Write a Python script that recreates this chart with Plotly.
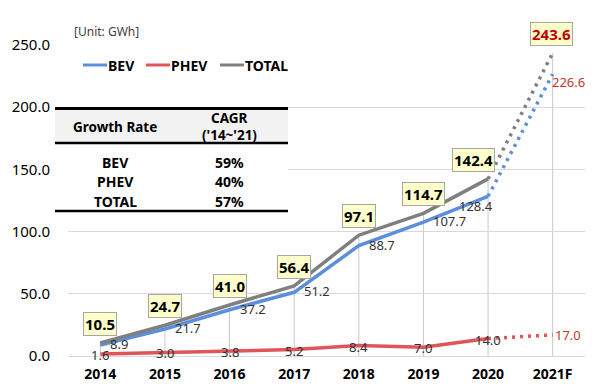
import plotly.graph_objects as go

years = ["2014", "2015", "2016", "2017", "2018", "2019", "2020", "2021F"]
bev = [8.9, 21.7, 37.2, 51.2, 88.7, 107.7, 128.4, 226.6]
phev = [1.6, 3.0, 3.8, 5.2, 8.4, 7.0, 14.0, 17.0]
total = [10.5, 24.7, 41.0, 56.4, 97.1, 114.7, 142.4, 243.6]

table_rows = ["BEV", "PHEV", "TOTAL"]
table_cagr = ["59%", "40%", "57%"]

C_BEV = "#5B8EDC"
C_PHEV = "#E0555A"
C_TOT = "#7F7F7F"
FONT = "Noto Sans"

# plot area in pixels
L, R, T, B = 68, 585, 45, 356
W, H = 600, 390


def px(x):
    return (x - L) / (R - L)


def py(y):
    return (B - y) / (B - T)


fig = go.Figure()
xi = list(range(len(years)))

# drop lines
shapes = []
for i, v in enumerate(total):
    shapes.append(dict(type="line", xref="x", yref="y", x0=i, x1=i, y0=0, y1=v,
                       line=dict(color="#C8C8C8", width=1), layer="below"))


def add_series(vals, color):
    fig.add_trace(go.Scatter(x=xi[:7], y=vals[:7], mode="lines",
                             line=dict(color=color, width=3.5), showlegend=False,
                             hoverinfo="skip"))
    fig.add_trace(go.Scatter(x=xi[6:], y=vals[6:], mode="lines",
                             line=dict(color=color, width=3.5, dash="3px,5px"),
                             showlegend=False, hoverinfo="skip"))


add_series(phev, C_PHEV)
add_series(bev, C_BEV)
add_series(total, C_TOT)

ann = []
# TOTAL labels
for i, v in enumerate(total):
    last = i == len(total) - 1
    ann.append(dict(x=i, y=v, xref="x", yref="y", text=f"<b>{v:.1f}</b>",
                    showarrow=False, yshift=19, xshift=-15 if i == 6 else (-1 if last else 0),
                    font=dict(family=FONT, size=15, color="#C00000" if last else "#000000"),
                    bgcolor="#FFFFCC", bordercolor="#A6A6A6", borderwidth=1, borderpad=1))
# BEV labels
for i, v in enumerate(bev):
    last = i == len(bev) - 1
    if i == 6:
        xs, ys, xa = -12, -10, "center"
    elif last:
        xs, ys, xa = -3, -8, "left"
    else:
        xs, ys, xa = 8, 1, "left"
    ann.append(dict(x=i, y=v, xref="x", yref="y", text=f"{v:.1f}",
                    showarrow=False, xshift=xs, yshift=ys, xanchor=xa,
                    font=dict(family=FONT, size=13, color="#C0392B" if last else "#333333")))
# PHEV labels
for i, v in enumerate(phev):
    last = i == len(phev) - 1
    ann.append(dict(x=i, y=v, xref="x", yref="y", text=f"{v:.1f}",
                    showarrow=False, xanchor="left" if last else "center",
                    xshift=0, yshift=0 if last else -1,
                    font=dict(family=FONT, size=13, color="#C0392B" if last else "#333333")))

# unit
ann.append(dict(x=px(72), y=py(32), xref="paper", yref="paper", text="[Unit: GWh]",
                showarrow=False, xanchor="left", yanchor="middle",
                font=dict(family=FONT, size=12, color="#404040")))

# legend (custom)
for x0, name, col in [(83, "BEV", C_BEV), (146, "PHEV", C_PHEV), (220, "TOTAL", C_TOT)]:
    shapes.append(dict(type="line", xref="paper", yref="paper", x0=px(x0), x1=px(x0 + 24),
                       y0=py(65), y1=py(65), line=dict(color=col, width=3)))
    ann.append(dict(x=px(x0 + 23), y=py(65), xref="paper", yref="paper", text=f"<b>{name}</b>",
                    showarrow=False, xanchor="left", yanchor="middle",
                    font=dict(family=FONT, size=14, color="#000000")))

# table
tx0, tx1 = 55, 288
shapes.append(dict(type="rect", xref="paper", yref="paper", x0=px(tx0), x1=px(tx1),
                   y0=py(212), y1=py(108), fillcolor="#FFFFFF", line=dict(width=0)))
shapes.append(dict(type="rect", xref="paper", yref="paper", x0=px(tx0), x1=px(tx1),
                   y0=py(143), y1=py(109), fillcolor="#F2F2F2", line=dict(width=0)))
for yy, lw in [(108.5, 3), (143, 2.5), (211, 2.5)]:
    shapes.append(dict(type="line", xref="paper", yref="paper", x0=px(tx0), x1=px(tx1),
                       y0=py(yy), y1=py(yy), line=dict(color="#000000", width=lw)))


def tt(x, y, text, size=13):
    ann.append(dict(x=px(x), y=py(y), xref="paper", yref="paper", text=f"<b>{text}</b>",
                    showarrow=False, xanchor="center", yanchor="middle",
                    font=dict(family=FONT, size=size, color="#000000")))


tt(115, 127, "Growth Rate", 13.5)
tt(229, 118, "CAGR", 13.5)
tt(229, 135, "('14~'21)", 13.5)
for k, (r, c) in enumerate(zip(table_rows, table_cagr)):
    yy = 162 + k * 19.5
    tt(115, yy, r, 14)
    tt(229, yy, c, 14)

fig.update_layout(
    width=W, height=H,
    margin=dict(l=L, r=W - R, t=T, b=H - B),
    plot_bgcolor="#FFFFFF", paper_bgcolor="#FFFFFF",
    shapes=shapes, annotations=ann, showlegend=False,
    xaxis=dict(range=[-0.5, 7.5], tickvals=xi, ticktext=[f"<b>{y}</b>" for y in years],
               showgrid=False, zeroline=False, automargin=False,
               showline=False, ticks="", tickfont=dict(family=FONT, size=14, color="#000000"),
               ticklabelstandoff=8),
    yaxis=dict(range=[0, 250], tickvals=[0, 50, 100, 150, 200, 250], tickformat=".1f",
               showgrid=True, gridcolor="#D9D9D9", gridwidth=1, zeroline=True, automargin=False,
               zerolinecolor="#D9D9D9", zerolinewidth=1, showline=False, ticks="",
               tickfont=dict(family=FONT, size=15, color="#000000"),
               tickprefix="<b>", ticksuffix="</b>", ticklabelstandoff=17),
)
for tr in fig.data:
    tr.cliponaxis = False

fig.write_html("out.html", config={"displayModeBar": False},
               post_script="document.body.style.margin='0px';")
